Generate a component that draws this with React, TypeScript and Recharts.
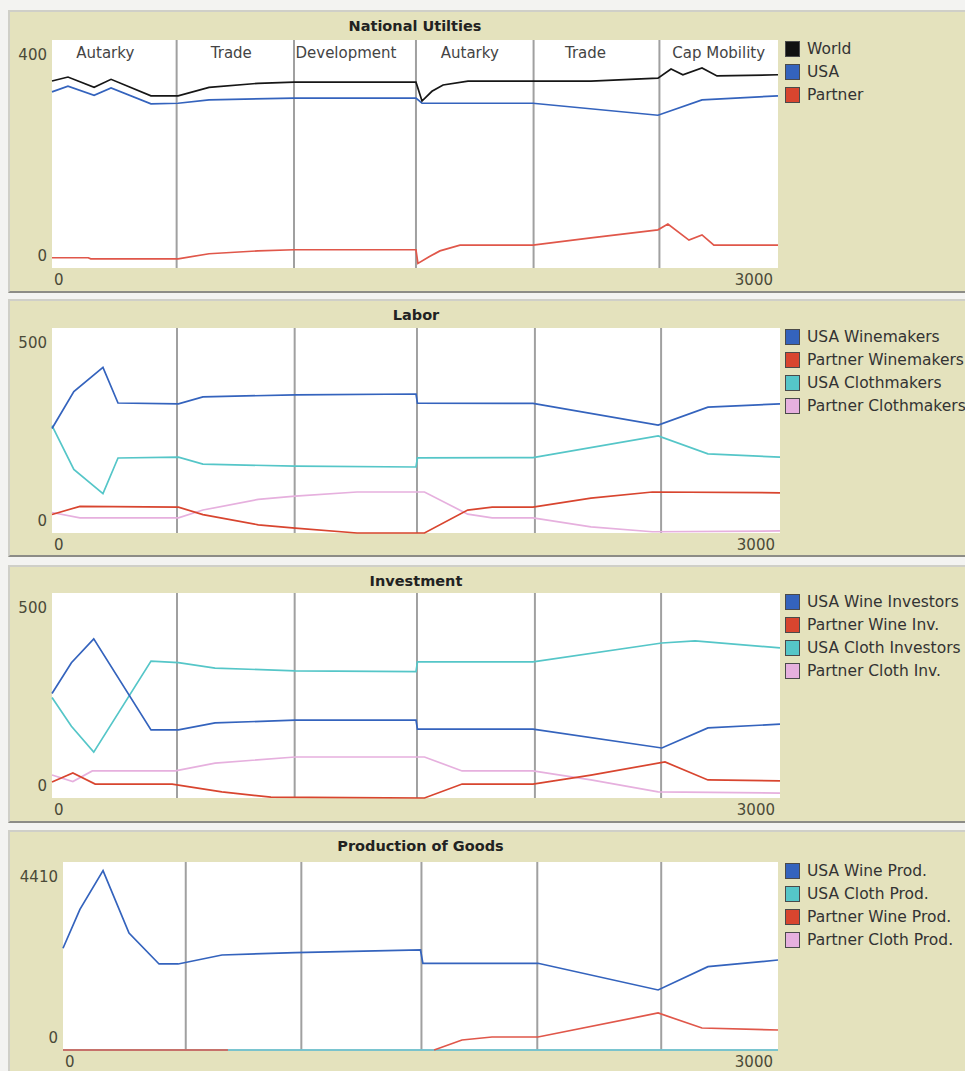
import React from "react";
import {
  LineChart,
  Line,
  XAxis,
  YAxis,
  CartesianGrid,
  ReferenceLine,
  ReferenceArea,
} from "recharts";

// ---- shared time axis ----
const xTicks = [0, 3000];
const phaseBounds = [0, 515, 1000, 1504, 1990, 2510, 3000];
const phaseNames = ["Autarky", "Trade", "Development", "Autarky", "Trade", "Cap Mobility"];

// ---- National Utilities ----
const worldX = [0, 66, 174, 244, 409, 521, 649, 851, 1000, 1504, 1529, 1570, 1616, 1719, 2227, 2504, 2558, 2607, 2686, 2748, 3000];
const worldV = [328, 335, 317, 331, 302, 302, 317, 324, 326, 326, 293, 310, 321, 328, 328, 333, 349, 339, 351, 337, 339];
const usaX = [0, 66, 174, 244, 409, 521, 649, 1000, 1504, 1529, 1987, 2504, 2686, 3000];
const usaV = [309, 319, 303, 316, 288, 289, 295, 298, 298, 289, 289, 268, 295, 302];
const partnerX = [0, 150, 160, 521, 649, 851, 1000, 1504, 1512, 1560, 1603, 1686, 1987, 2227, 2504, 2545, 2632, 2686, 2735, 3000];
const partnerV = [18, 18, 16, 16, 25, 30, 32, 32, 8, 20, 30, 40, 40, 53, 67, 77, 49, 58, 40, 40];

// ---- Labor ----
const usaLaborX = [0, 90, 210, 272, 521, 622, 1002, 1500, 1506, 1982, 2498, 2703, 3000];
const usaWinemakers = [255, 345, 404, 317, 315, 332, 337, 339, 317, 316, 263, 307, 315];
const usaClothmakers = [262, 155, 96, 183, 185, 168, 163, 161, 183, 184, 237, 193, 185];
const partnerLaborX = [0, 115, 521, 622, 850, 1002, 1257, 1535, 1713, 1814, 1982, 2221, 2474, 3000];
const partnerWinemakers = [45, 65, 63, 45, 20, 12, 0, 0, 56, 63, 63, 85, 100, 98];
const partnerClothmakers = [50, 37, 37, 56, 82, 90, 100, 100, 46, 37, 37, 15, 3, 5];

// ---- Investment ----
const usaWineInvX = [0, 80, 172, 408, 521, 672, 1002, 1500, 1506, 1982, 2513, 2703, 3000];
const usaWineInv = [255, 330, 388, 166, 166, 183, 190, 190, 168, 168, 122, 171, 180];
const usaClothInvX = [0, 80, 172, 408, 521, 672, 1002, 1500, 1506, 1982, 2513, 2650, 3000];
const usaClothInv = [245, 175, 112, 334, 330, 317, 310, 308, 332, 332, 378, 383, 366];
const partnerWineInvX = [0, 86, 178, 495, 700, 902, 1535, 1690, 1982, 2221, 2526, 2703, 3000];
const partnerWineInv = [39, 61, 34, 34, 15, 2, 0, 34, 34, 56, 88, 44, 42];
const partnerClothInvX = [0, 86, 166, 508, 672, 1002, 1535, 1690, 1982, 2221, 2498, 3000];
const partnerClothInv = [56, 40, 66, 66, 85, 100, 100, 66, 66, 44, 15, 12];

// ---- Production of Goods ----
const usaWineProdX = [0, 71, 168, 277, 403, 483, 667, 974, 1500, 1510, 1993, 2497, 2706, 3000];
const usaWineProd = [2386, 3300, 4207, 2745, 2018, 2018, 2229, 2283, 2346, 2034, 2034, 1408, 1955, 2111];
const usaClothProdX = [0, 3000];
const usaClothProd = [0, 0];
const partnerWineProdX = [0, 692, 1000, 1557, 1674, 1800, 1993, 2497, 2681, 3000];
const partnerWineProd = [0, 0, null, 0, 235, 305, 305, 868, 516, 469];
const partnerClothProdX = [0, 3000];
const partnerClothProd = [0, 0];

const C = {
  black: "#161616",
  blue: "#3463bd",
  red: "#d8452f",
  lightRed: "#e0574a",
  cyan: "#55c6c8",
  pink: "#e6b0de",
};

const pts = (xs: number[], vs: (number | null)[]) => xs.map((x, i) => ({ x, v: vs[i] }));

type Series = { name: string; color: string; data: { x: number; v: number | null }[] };

type PanelProps = {
  title: string;
  top: number;
  height: number;
  plotLeft: number;
  plotRight: number;
  plotTop: number;
  plotBottom: number;
  yMax: number;
  legend: { name: string; color: string }[];
  series: Series[];
  showPhaseNames?: boolean;
};

const KHAKI = "#e4e2bd";
const TICK_COLOR = "#4a4a38";
const FONT = "'DejaVu Sans', sans-serif";
const labelShift = [-9, -4, -9, -5, -11, 0];

function Panel(p: PanelProps) {
  const chartW = 965;
  const yAxisW = 40;
  const xAxisH = 20;
  const margin = {
    top: p.plotTop - p.top,
    left: p.plotLeft - yAxisW,
    right: chartW - p.plotRight,
    bottom: p.top + p.height - p.plotBottom - xAxisH,
  };

  const yTick = (props: any) => {
    const { x, y, payload } = props;
    const isMax = payload.value === p.yMax;
    return (
      <text
        x={x}
        y={y + (isMax ? 15 : -12)}
        textAnchor="end"
        dominantBaseline="central"
        fontSize={15}
        fontFamily={FONT}
        fill={TICK_COLOR}
      >
        {payload.value}
      </text>
    );
  };

  const xTick = (props: any) => {
    const { x, y, payload } = props;
    const isStart = payload.value === 0;
    return (
      <text
        x={isStart ? x + 2 : x - 5}
        y={y + 12}
        textAnchor={isStart ? "start" : "end"}
        dominantBaseline="central"
        fontSize={15}
        fontFamily={FONT}
        fill={TICK_COLOR}
      >
        {payload.value}
      </text>
    );
  };

  return (
    <>
      <div
        style={{
          position: "absolute",
          left: 8,
          top: p.top,
          width: 970,
          height: p.height,
          boxSizing: "border-box",
          background: KHAKI,
          borderTop: "2px solid #cfcfc8",
          borderLeft: "2px solid #cfcfc8",
          borderBottom: "2px solid #8c8c86",
        }}
      />
      <div
        style={{
          position: "absolute",
          left: p.plotLeft,
          width: p.plotRight - p.plotLeft,
          top: p.top + 8,
          textAlign: "center",
          fontFamily: FONT,
          fontWeight: "bold",
          fontSize: 14.5,
          color: "#222",
        }}
      >
        {p.title}
      </div>
      <div style={{ position: "absolute", left: 0, top: p.top }}>
        <LineChart width={chartW} height={p.height} margin={margin}>
          <CartesianGrid fill="#ffffff" stroke="none" horizontal={false} vertical={false} />
          <XAxis
            type="number"
            dataKey="x"
            domain={[0, 3000]}
            ticks={xTicks}
            axisLine={false}
            tickLine={false}
            tickSize={0}
            tickMargin={0}
            height={xAxisH}
            tick={xTick}
          />
          <YAxis
            type="number"
            domain={[0, p.yMax]}
            ticks={[0, p.yMax]}
            axisLine={false}
            tickLine={false}
            tickSize={0}
            tickMargin={5}
            width={yAxisW}
            tick={yTick}
          />
          {p.showPhaseNames &&
            phaseNames.map((name, i) => (
              <ReferenceArea
                key={"a" + i}
                x1={phaseBounds[i]}
                x2={phaseBounds[i + 1]}
                fill="none"
                fillOpacity={0}
                stroke="none"
                label={(lp: any) => {
                  const vb = lp.viewBox || {};
                  return (
                    <text
                      x={vb.x + vb.width / 2 + labelShift[i]}
                      y={vb.y + 13}
                      textAnchor="middle"
                      dominantBaseline="central"
                      fontSize={15}
                      fontFamily={FONT}
                      fill="#444"
                    >
                      {name}
                    </text>
                  );
                }}
              />
            ))}
          {phaseBounds.slice(1, -1).map((b) => (
            <ReferenceLine key={"l" + b} x={b} stroke="#a0a0a0" strokeWidth={2} />
          ))}
          {p.series.map((s) => (
            <Line
              key={s.name}
              data={s.data}
              dataKey="v"
              type="linear"
              stroke={s.color}
              strokeWidth={1.7}
              dot={false}
              isAnimationActive={false}
              connectNulls={false}
            />
          ))}
        </LineChart>
      </div>
      <div style={{ position: "absolute", left: 785, top: p.plotTop + 1, fontFamily: FONT, fontSize: 15.5, color: "#333" }}>
        {p.legend.map((l, i) => (
          <div key={l.name} style={{ position: "absolute", top: i * 23, left: 0, whiteSpace: "nowrap", height: 16 }}>
            <span
              style={{
                position: "absolute",
                left: 0,
                top: 0,
                width: 15,
                height: 16,
                boxSizing: "border-box",
                background: l.color,
                border: "1px solid #4a4a4a",
              }}
            />
            <span style={{ position: "absolute", left: 22, top: -2, lineHeight: "20px" }}>{l.name}</span>
          </div>
        ))}
      </div>
    </>
  );
}

export default function App() {
  return (
    <div style={{ position: "absolute", left: 0, top: 0, width: 965, height: 1071, overflow: "hidden", background: "#f3f3f1" }}>
      <Panel
        title="National Utilties"
        top={10}
        height={283}
        plotLeft={52}
        plotRight={778}
        plotTop={40}
        plotBottom={268}
        yMax={400}
        showPhaseNames
        legend={[
          { name: "World", color: "#111" },
          { name: "USA", color: C.blue },
          { name: "Partner", color: C.red },
        ]}
        series={[
          { name: "Partner", color: C.lightRed, data: pts(partnerX, partnerV) },
          { name: "USA", color: C.blue, data: pts(usaX, usaV) },
          { name: "World", color: C.black, data: pts(worldX, worldV) },
        ]}
      />
      <Panel
        title="Labor"
        top={299}
        height={258}
        plotLeft={52}
        plotRight={780}
        plotTop={328}
        plotBottom={533}
        yMax={500}
        legend={[
          { name: "USA Winemakers", color: C.blue },
          { name: "Partner Winemakers", color: C.red },
          { name: "USA Clothmakers", color: C.cyan },
          { name: "Partner Clothmakers", color: C.pink },
        ]}
        series={[
          { name: "Partner Clothmakers", color: C.pink, data: pts(partnerLaborX, partnerClothmakers) },
          { name: "Partner Winemakers", color: C.red, data: pts(partnerLaborX, partnerWinemakers) },
          { name: "USA Clothmakers", color: C.cyan, data: pts(usaLaborX, usaClothmakers) },
          { name: "USA Winemakers", color: C.blue, data: pts(usaLaborX, usaWinemakers) },
        ]}
      />
      <Panel
        title="Investment"
        top={565}
        height={258}
        plotLeft={52}
        plotRight={780}
        plotTop={593}
        plotBottom={798}
        yMax={500}
        legend={[
          { name: "USA Wine Investors", color: C.blue },
          { name: "Partner Wine Inv.", color: C.red },
          { name: "USA Cloth Investors", color: C.cyan },
          { name: "Partner Cloth Inv.", color: C.pink },
        ]}
        series={[
          { name: "Partner Cloth Inv.", color: C.pink, data: pts(partnerClothInvX, partnerClothInv) },
          { name: "Partner Wine Inv.", color: C.red, data: pts(partnerWineInvX, partnerWineInv) },
          { name: "USA Cloth Investors", color: C.cyan, data: pts(usaClothInvX, usaClothInv) },
          { name: "USA Wine Investors", color: C.blue, data: pts(usaWineInvX, usaWineInv) },
        ]}
      />
      <Panel
        title="Production of Goods"
        top={830}
        height={245}
        plotLeft={63}
        plotRight={778}
        plotTop={862}
        plotBottom={1050}
        yMax={4410}
        legend={[
          { name: "USA Wine Prod.", color: C.blue },
          { name: "USA Cloth Prod.", color: C.cyan },
          { name: "Partner Wine Prod.", color: C.red },
          { name: "Partner Cloth Prod.", color: C.pink },
        ]}
        series={[
          { name: "Partner Cloth Prod.", color: C.pink, data: pts(partnerClothProdX, partnerClothProd) },
          { name: "USA Cloth Prod.", color: C.cyan, data: pts(usaClothProdX, usaClothProd) },
          { name: "Partner Wine Prod.", color: C.lightRed, data: pts(partnerWineProdX, partnerWineProd) },
          { name: "USA Wine Prod.", color: C.blue, data: pts(usaWineProdX, usaWineProd) },
        ]}
      />
    </div>
  );
}
